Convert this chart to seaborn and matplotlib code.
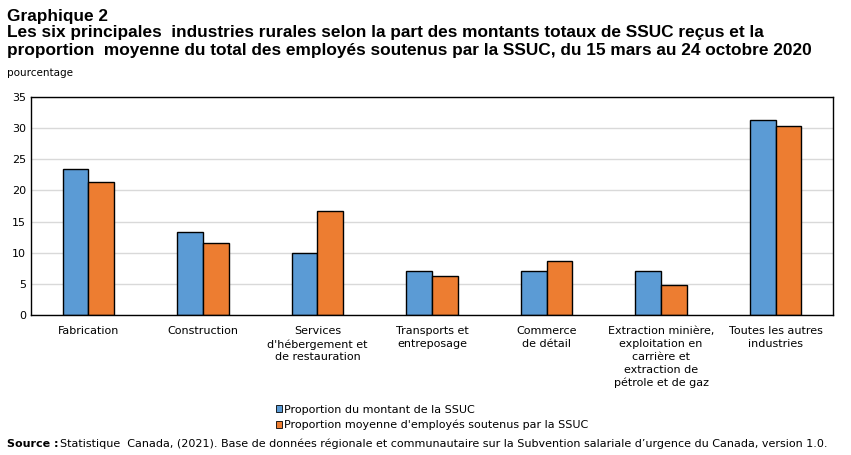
import matplotlib
matplotlib.use("Agg")
import matplotlib.pyplot as plt
import seaborn as sns
import pandas as pd
from matplotlib.patches import Patch

categories = [
    "Fabrication",
    "Construction",
    "Services\nd'hébergement et\nde restauration",
    "Transports et\nentreposage",
    "Commerce\nde détail",
    "Extraction minière,\nexploitation en\ncarrière et\nextraction de\npétrole et de gaz",
    "Toutes les autres\nindustries",
]
montant = [23.5, 13.4, 9.9, 7.0, 7.0, 7.0, 31.3]
employes = [21.3, 11.5, 16.7, 6.2, 8.6, 4.8, 30.3]
series = ["Proportion du montant de la SSUC",
          "Proportion moyenne d'employés soutenus par la SSUC"]
colors = ["#5b9bd5", "#ed7d31"]

df = pd.DataFrame({
    "categorie": categories * 2,
    "valeur": montant + employes,
    "serie": [series[0]] * len(categories) + [series[1]] * len(categories),
})

sns.set_style("white")
plt.rcParams["font.family"] = ["DejaVu Sans"]
plt.rcParams["text.color"] = "black"

fig = plt.figure(figsize=(8.51, 4.55), dpi=100)
ax = fig.add_axes([31 / 851, 1 - 315 / 455, 802 / 851, 218 / 455])

sns.barplot(data=df, x="categorie", y="valeur", hue="serie", palette=colors,
            saturation=1, width=0.45, edgecolor="black", linewidth=1, ax=ax,
            legend=False)

ax.set_ylim(0, 35)
ax.set_yticks(range(0, 36, 5))
ax.set_xlim(-0.5, len(categories) - 0.5)
ax.yaxis.grid(True, color="#d9d9d9", linewidth=1)
ax.set_axisbelow(True)
for s in ax.spines.values():
    s.set_color("black")
    s.set_linewidth(1)
ax.tick_params(axis="both", length=0, labelsize=8, colors="black")
ax.tick_params(axis="x", pad=8)
for lbl in ax.get_xticklabels():
    lbl.set_linespacing(1.35)
ax.set_xlabel("")
ax.set_ylabel("")

title_kw = dict(fontsize=12.4, fontweight="bold", family="Liberation Sans", va="center")
fig.text(7 / 851, 1 - 16 / 455, "Graphique 2", **title_kw)
fig.text(7 / 851, 1 - 33 / 455,
         "Les six principales  industries rurales selon la part des montants totaux de SSUC reçus et la",
         **title_kw)
fig.text(7 / 851, 1 - 50 / 455,
         "proportion  moyenne du total des employés soutenus par la SSUC, du 15 mars au 24 octobre 2020",
         **title_kw)
fig.text(7 / 851, 1 - 73 / 455, "pourcentage", fontsize=7.5, va="center")

handles = [Patch(facecolor=c, edgecolor="black", linewidth=0.6) for c in colors]
fig.legend(handles, series, loc="upper left", bbox_to_anchor=(270 / 851, 1 - 399 / 455),
           frameon=False, fontsize=8, handlelength=0.6, handleheight=0.6,
           handletextpad=0.2, labelspacing=0.45, borderpad=0)

fig.text(7 / 851, 1 - 444 / 455, "Source :", fontsize=8, fontweight="bold", va="center")
fig.text(60 / 851, 1 - 444 / 455,
         "Statistique  Canada, (2021). Base de données régionale et communautaire sur la Subvention salariale d’urgence du Canada, version 1.0.",
         fontsize=8, va="center")

fig.savefig("out.png", dpi=100)
